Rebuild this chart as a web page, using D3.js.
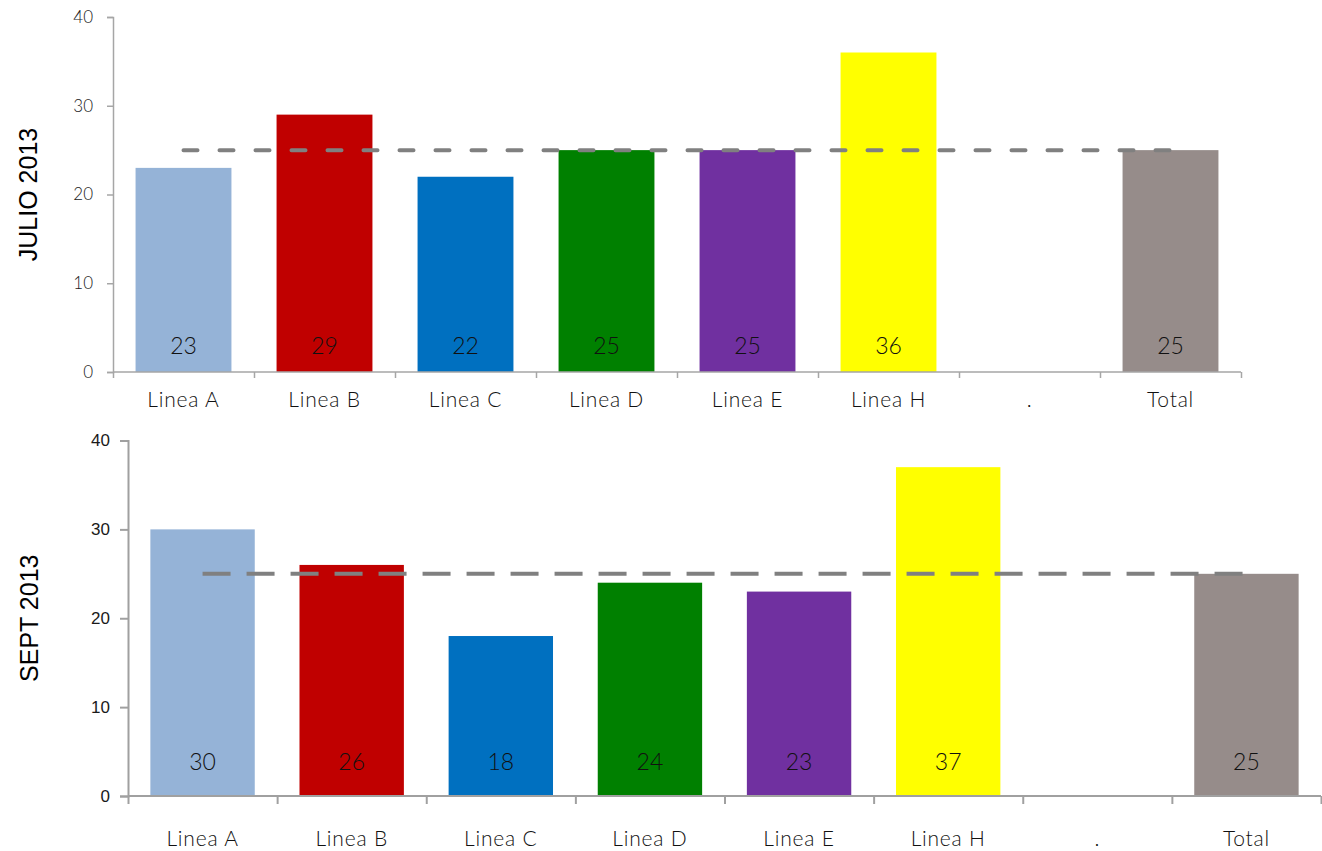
<!DOCTYPE html>
<html>
<head>
<meta charset="utf-8">
<script src="https://cdn.jsdelivr.net/npm/d3@7"></script>
<style>
  html, body { margin: 0; padding: 0; background: #ffffff; }
  svg { display: block; }
</style>
</head>
<body>
<svg id="chart" width="1322" height="851"></svg>
<script>
// Categories shared by both panels
const categories = ["Linea A", "Linea B", "Linea C", "Linea D", "Linea E", "Linea H", ".", "Total"];

// Values per panel (the "." slot is an empty spacer)
const julioValues = [23, 29, 22, 25, 25, 36, null, 25];
const septValues  = [30, 26, 18, 24, 23, 37, null, 25];

// Reference (average) line per panel
const julioAverage = 25;
const septAverage  = 25;

// Panel titles
const panelTitles = ["JULIO 2013", "SEPT 2013"];

// Axis ticks
const yTickValues = [0, 10, 20, 30, 40];

// Bar colours by category
const barColors = ["#95B3D7", "#C00000", "#0070C0", "#008000", "#7030A0", "#FFFF00", "#FFFFFF", "#968C8A"];

const svg = d3.select("#chart");

function drawPanel(opt) {
  const g = svg.append("g");

  const x = d3.scaleBand()
    .domain(categories)
    .range([opt.left, opt.right])
    .paddingInner(opt.barPad)
    .paddingOuter(opt.barPad / 2);

  // boundaries between categories for the tick marks
  const xb = d3.scaleLinear().domain([0, categories.length]).range([opt.left, opt.right]);

  const y = d3.scaleLinear().domain([0, 40]).range([opt.bottom, opt.top]);

  const rows = categories.map((c, i) => ({ cat: c, value: opt.values[i], color: barColors[i] }))
    .filter(d => d.value != null);

  // bars
  g.selectAll("rect.bar").data(rows).enter().append("rect")
    .attr("class", "bar")
    .attr("x", d => x(d.cat))
    .attr("width", x.bandwidth())
    .attr("y", d => y(d.value))
    .attr("height", d => y(0) - y(d.value))
    .attr("fill", d => d.color);

  // y axis
  const yAxis = g.append("g")
    .attr("transform", `translate(${opt.left},0)`)
    .call(d3.axisLeft(y).tickValues(yTickValues).tickSize(opt.tickLen).tickPadding(opt.yPad));
  yAxis.select(".domain").attr("stroke", opt.axisColor).attr("stroke-width", opt.axisWidth);
  yAxis.selectAll(".tick line").attr("stroke", opt.axisColor).attr("stroke-width", opt.axisWidth);
  yAxis.selectAll(".tick text")
    .attr("fill", "#1a1a1a")
    .style("font-family", opt.yFont)
    .style("font-size", opt.yFontSize + "px")
    .style("font-weight", opt.yWeight);

  // x axis: tick marks at category boundaries
  const xTicks = g.append("g")
    .attr("transform", `translate(0,${opt.bottom})`)
    .call(d3.axisBottom(xb).tickValues(d3.range(0, categories.length + 1)).tickSize(opt.tickLen).tickFormat(""));
  xTicks.select(".domain").attr("stroke", opt.axisColor).attr("stroke-width", opt.axisWidth)
    .attr("d", `M${opt.left},0H${opt.right}`);
  xTicks.selectAll(".tick line").attr("stroke", opt.axisColor).attr("stroke-width", opt.axisWidth);

  // x axis: category labels at band centres
  const xLabels = g.append("g")
    .attr("transform", `translate(0,${opt.bottom})`)
    .call(d3.axisBottom(x).tickSize(0).tickPadding(opt.xPad));
  xLabels.select(".domain").remove();
  xLabels.selectAll(".tick text")
    .attr("fill", "#111")
    .style("font-family", opt.labelFont)
    .style("font-size", opt.xFontSize + "px")
    .style("font-weight", opt.labelWeight)
    .style("letter-spacing", opt.spacing + "px");

  // average reference line
  const avgLine = d3.line().x(d => d[0]).y(d => y(d[1]));
  const first = categories[0], last = categories[categories.length - 1];
  g.append("path")
    .attr("d", avgLine([[x(first) + x.bandwidth() / 2, opt.average], [x(last) + x.bandwidth() / 2, opt.average]]))
    .attr("fill", "none")
    .attr("stroke", "#808080")
    .attr("stroke-width", 4)
    .attr("stroke-linecap", opt.dashCap)
    .attr("stroke-dasharray", opt.dash);

  // value labels inside the bars
  g.selectAll("text.val").data(rows).enter().append("text")
    .attr("class", "val")
    .attr("x", d => x(d.cat) + x.bandwidth() / 2)
    .attr("y", opt.bottom - opt.valOffset)
    .attr("text-anchor", "middle")
    .attr("fill", "#111")
    .style("font-family", opt.labelFont)
    .style("font-size", opt.valFontSize + "px")
    .style("font-weight", opt.labelWeight)
    .text(d => d.value);

  // panel title, rotated
  g.append("text")
    .attr("transform", `translate(${opt.titleX},${(opt.top + opt.bottom) / 2}) rotate(-90)`)
    .attr("text-anchor", "middle")
    .attr("fill", "#000")
    .style("font-family", "'Liberation Sans', Arial, sans-serif")
    .style("font-size", "25px")
    .text(opt.title);
}

drawPanel({
  values: julioValues, average: julioAverage, title: panelTitles[0],
  left: 113, right: 1241, top: 17, bottom: 372,
  barPad: 0.32, tickLen: 6, axisColor: "#a6a6a6", axisWidth: 1.5,
  yPad: 14, yFont: "Lato, 'Noto Sans', sans-serif", yFontSize: 17, yWeight: 300,
  labelFont: "Lato, 'Noto Sans', sans-serif", labelWeight: 300,
  xFontSize: 21, xPad: 20, spacing: 0.8, valFontSize: 23, valOffset: 18,
  dash: "14,22", dashCap: "round", titleX: 37
});

drawPanel({
  values: septValues, average: septAverage, title: panelTitles[1],
  left: 128, right: 1321, top: 440.5, bottom: 796,
  barPad: 0.30, tickLen: 8, axisColor: "#a0a0a0", axisWidth: 2,
  yPad: 10, yFont: "'Liberation Sans', Arial, sans-serif", yFontSize: 17, yWeight: 400,
  labelFont: "Lato, 'Noto Sans', sans-serif", labelWeight: 300,
  xFontSize: 21, xPad: 35, spacing: 0.8, valFontSize: 23, valOffset: 26,
  dash: "28,16", dashCap: "butt", titleX: 38
});
</script>
</body>
</html>
